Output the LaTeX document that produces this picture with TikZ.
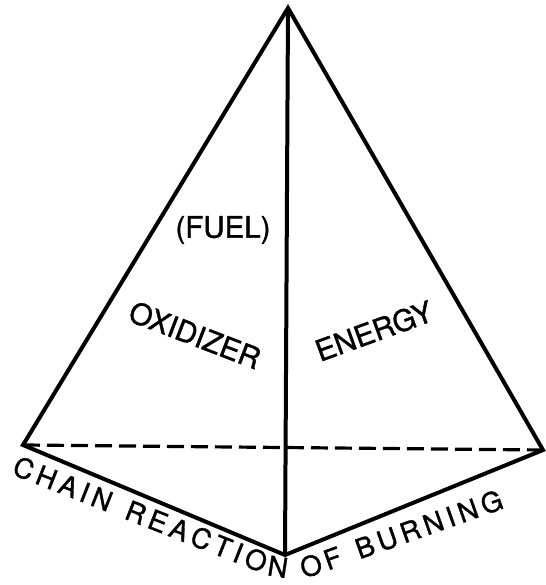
\documentclass[tikz,border=0pt]{standalone}
\usepackage{fontspec}
\setmainfont{TeX Gyre Heros}
\newfontfamily\heavyfont[FakeBold=1.2]{TeX Gyre Heros}
\usetikzlibrary{decorations.text}
\begin{document}
\begin{tikzpicture}[x=1pt,y=1pt,
  edge/.style={line width=4pt, line join=miter},
  hidden/.style={line width=3.2pt, dash pattern=on 17pt off 7pt},
  lbl/.style={font=\heavyfont\fontsize{29.5}{31}\selectfont, inner sep=0pt}]
\useasboundingbox (0,0) rectangle (545,585);
\coordinate (A) at (288,577);
\coordinate (L) at (23,140);
\coordinate (R) at (543,135);
\coordinate (B) at (285,30);
\coordinate (t1) at (11,111);
\coordinate (tc) at (290,1);
\coordinate (t2) at (505,77);
\draw[hidden] (L) -- (R);
\draw[edge] (L) -- (A) -- (R) -- (B) -- cycle;
\draw[edge] (A) -- (B);
\node[lbl] (fuel) at (223,355) {(FUEL)};
\node[lbl, rotate=-21] (oxi) at (195,250) {OXIDIZER};
\node[lbl, rotate=20] (ene) at (374,254) {ENERGY};
\path[rounded corners=30pt, decorate, decoration={text along path,
  text={|\heavyfont\fontsize{27.5}{29}\selectfont|CHAIN REACTION OF BURNING},
  text align={fit to path}}] (t1) -- (tc) -- (t2);
\end{tikzpicture}
\end{document}
